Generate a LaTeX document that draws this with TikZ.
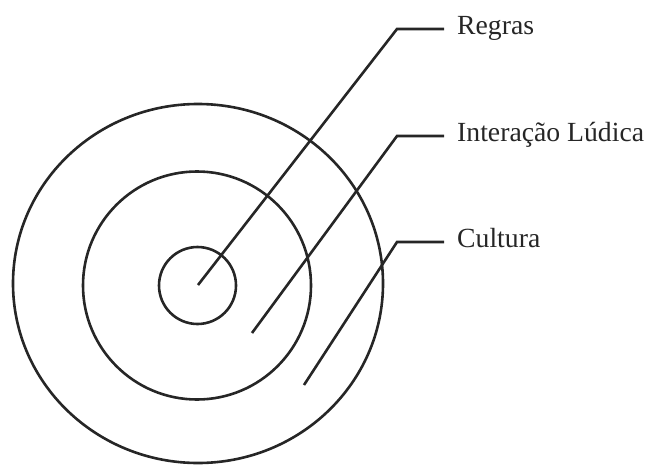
\documentclass[tikz,border=0pt]{standalone}
\usepackage{fontspec}
\setmainfont{Liberation Serif}
\usetikzlibrary{shapes.geometric}
\begin{document}
\begin{tikzpicture}[x=1pt,y=-1pt,
  ring/.style={draw=black!85,line width=2.6pt},
  leader/.style={draw=black!85,line width=2.6pt,line join=miter},
  lbl/.style={anchor=base west,inner sep=0pt,font=\fontsize{27.7}{32}\selectfont,text=black!85}]
\useasboundingbox (0,0) rectangle (647,468);
\node[ring,ellipse,minimum width=370pt,minimum height=359pt,inner sep=0pt] (outer) at (198,283.5) {};
\node[ring,circle,minimum size=228pt,inner sep=0pt] (middle) at (197,285.5) {};
\node[ring,circle,minimum size=77pt,inner sep=0pt] (inner) at (197.5,285.5) {};
\coordinate (s1) at (198,285);
\coordinate (s2) at (252,333);
\coordinate (s3) at (304,385);
\coordinate (c1) at (397,29);
\coordinate (c2) at (397,136);
\coordinate (c3) at (397,242);
\coordinate (e1) at (444,29);
\coordinate (e2) at (444,136);
\coordinate (e3) at (444,242);
\node[lbl] (regras) at (457,34.5) {Regras};
\node[lbl] (inter) at (457,141) {Interação Lúdica};
\node[lbl] (cult) at (457,247) {Cultura};
\draw[leader] (s1) -- (c1) -- (e1);
\draw[leader] (s2) -- (c2) -- (e2);
\draw[leader] (s3) -- (c3) -- (e3);
\end{tikzpicture}
\end{document}
